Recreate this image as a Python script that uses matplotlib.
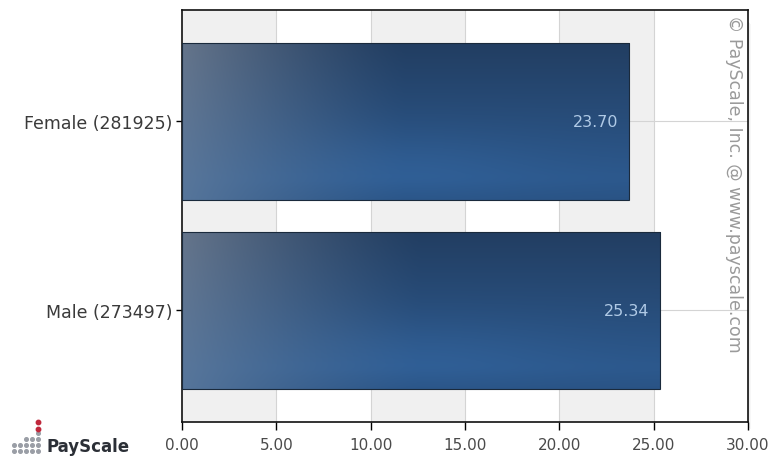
import numpy as np
import matplotlib.pyplot as plt
from matplotlib.patches import Rectangle

# Average hourly rate by gender (respondents in brackets)
categories = ["Male (273497)", "Female (281925)"]
values = [25.34, 23.70]
xticks = [0, 5, 10, 15, 20, 25, 30]

fig = plt.figure(figsize=(7.7, 4.6), dpi=100)
ax = fig.add_axes([0.2364, 0.0804, 0.735, 0.896])
ax.set_xlim(0, 30)
ax.set_ylim(-0.59, 1.59)

# alternating column bands and grid
for i, x0 in enumerate(xticks[:-1]):
    if i % 2 == 0:
        ax.axvspan(x0, x0 + 5, color="#f0f0f0", zorder=0, lw=0)
for x0 in xticks[1:-1]:
    ax.axvline(x0, color="#d4d4d4", lw=0.8, zorder=0.5)
for y in range(len(categories)):
    ax.axhline(y, color="#d4d4d4", lw=0.8, zorder=0.5)


def bar_gradient(n=240, m=120):
    t = np.linspace(0, 1, n)[None, :, None]
    s = np.linspace(0, 1, m)[:, None, None]  # 0 = bottom, 1 = top
    navy = np.array([34, 62, 98])
    blue = np.array([44, 88, 140])
    edge = np.array([40, 80, 128])
    # vertical: bluer low down, navy towards the top
    up = np.clip((s - 0.15) / 0.85, 0, 1)
    c = blue + (navy - blue) * up
    low = np.clip(1 - s / 0.12, 0, 1) * 0.6
    c = c + (edge - c) * low
    # faint highlight in the lower middle
    glow = np.exp(-((t - 0.5) / 0.3) ** 2 - ((s - 0.22) / 0.25) ** 2)
    c = c + np.array([4, 7, 10]) * glow
    # greyish light sweep from the left edge
    lt_top = np.array([110, 124, 144])
    lt_bot = np.array([92, 122, 158])
    lt = lt_bot + (lt_top - lt_bot) * s
    w = np.clip(1 - t / 0.5, 0, 1) ** 1.3 * 0.88
    c = c + (lt - c) * w
    return np.clip(c / 255, 0, 1)


grad = bar_gradient()
height = 0.83
bars = ax.barh(range(len(categories)), values, height=height, color="none",
               edgecolor="#1a2a3c", lw=0.8, zorder=3)
for bar, v in zip(bars, values):
    y0 = bar.get_y()
    im = ax.imshow(grad, extent=[0, v, y0, y0 + height], origin="lower",
                   aspect="auto", zorder=2, interpolation="bilinear")
    im.set_clip_path(bar)
    ax.text(v - 0.55, y0 + height / 2, f"{v:.2f}", ha="right",
            va="center", color="#b0cae6", fontsize=11.5, zorder=4)

ax.set_xticks(xticks)
ax.set_xticklabels([f"{x:.2f}" for x in xticks], color="#4a4a4a", fontsize=11)
ax.set_yticks(range(len(categories)))
ax.set_yticklabels(categories, color="#3a3a3a", fontsize=12.5)
ax.tick_params(axis="x", direction="out", length=6, width=1, pad=5)
ax.tick_params(axis="y", direction="out", length=4, width=1, pad=3)
for sp in ax.spines.values():
    sp.set_linewidth(1.2)
    sp.set_color("#111111")

# soft shadow along the right edge of the plot
for k, a in enumerate([0.10, 0.06, 0.03]):
    fig.patches.append(Rectangle((0.9714 + k * 0.0013, 0.07 - k * 0.002), 0.0013,
                                 0.88, transform=fig.transFigure,
                                 color="black", alpha=a, lw=0))

ax.text(0.975, 0.99, "\u00a9 PayScale, Inc. @ www.payscale.com",
        transform=ax.transAxes, rotation=-90, ha="center", va="top",
        color="#9a9a9a", fontsize=12.5, zorder=5)

# logo
dot_x, dot_y = [], []
cols = [2, 2, 3, 3, 4]
for i, n in enumerate(cols):
    for j in range(n):
        dot_x.append(14 + i * 6)
        dot_y.append(452 - j * 6)
fig.add_artist(plt.Line2D(np.array(dot_x) / 770, 1 - np.array(dot_y) / 460,
                          ls="none", marker="o", ms=2.6, color="#9a9ea6",
                          transform=fig.transFigure))
fig.add_artist(plt.Line2D(np.array([38, 38]) / 770, 1 - np.array([423, 430]) / 460,
                          ls="none", marker="o", ms=3.2, color="#c0283c",
                          transform=fig.transFigure))
fig.text(47 / 770, 1 - 452 / 460, "PayScale", fontsize=12, fontweight="bold",
         color="#2b2f36", ha="left", va="baseline")

fig.savefig("out.png", dpi=100)
